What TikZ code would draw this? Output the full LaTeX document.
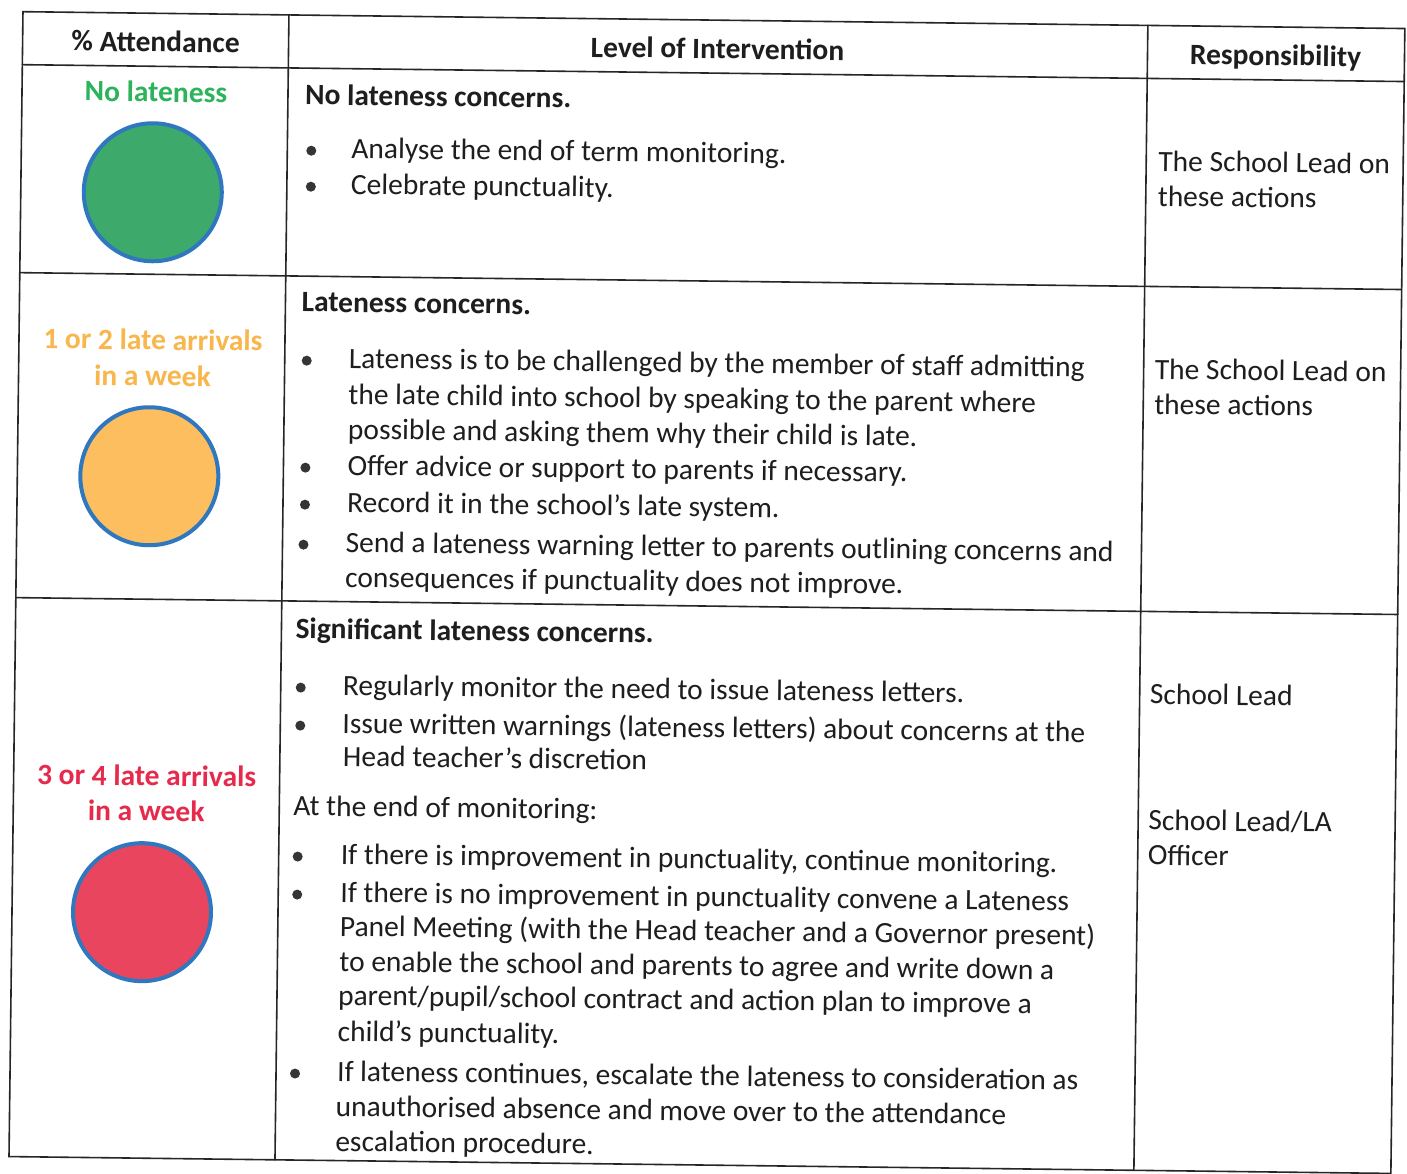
\documentclass[tikz,border=0pt]{standalone}
\usepackage{fontspec}
\setmainfont{Carlito}
\definecolor{ink}{HTML}{1E1E1E}
\definecolor{lampedge}{HTML}{2F78C0}
\definecolor{gfill}{HTML}{3DAA6C}
\definecolor{ofill}{HTML}{FDBE60}
\definecolor{rfill}{HTML}{E9455E}
\definecolor{gtext}{HTML}{2DB35C}
\definecolor{otext}{HTML}{F8B64C}
\definecolor{rtext}{HTML}{E62A4C}
\begin{document}
\begin{tikzpicture}[x=1pt,y=-1pt,
  grid/.style={line width=1.6pt, draw=black!85, line cap=round},
  txt/.style={font=\fontsize{29.5}{35}\selectfont, text=ink, inner sep=0pt, anchor=base west, yshift=-2.5pt},
  hd/.style={txt, font=\fontsize{29.5}{35}\selectfont\bfseries},
  ctr/.style={anchor=base},
  lamp/.style={circle, draw=lampedge, line width=4pt, minimum size=138pt, inner sep=0pt},
  bul/.style={circle, fill=ink!90, inner sep=0pt, minimum size=10pt, yshift=-2.5pt}]
\useasboundingbox (0,0) rectangle (1407,1173);
\fill[white] (0,0) rectangle (1407,1173);
\begin{scope}[rotate around={-0.7:(703,586)}, transform shape]
% grid
\draw[grid] (16,20) rectangle (1398,1165);
\draw[grid] (282,20) -- (282,1165);
\draw[grid] (1141,20) -- (1141,1165);
\foreach \yy in {73,281,606} \draw[grid] (16,\yy) -- (1398,\yy);
% header
\node[hd,ctr] (h1) at (149,56) {\% Attendance};
\node[hd,ctr] (h2) at (711,56) {Level of Intervention};
\node[hd,ctr] (h3) at (1269,56) {Responsibility};
% column 1
\node[hd,ctr,text=gtext] (g1) at (150,106) {No lateness};
\node[lamp,fill=gfill] (cg) at (148,199) {};
\node[hd,ctr,text=otext] (o1) at (150,354) {1 or 2 late arrivals};
\node[hd,ctr,text=otext] (o2) at (150,390) {in a week};
\node[lamp,fill=ofill] (co) at (148,483) {};
\node[hd,ctr,text=rtext] (r1) at (149,790) {3 or 4 late arrivals};
\node[hd,ctr,text=rtext] (r2) at (149,825) {in a week};
\node[lamp,fill=rfill] (cr) at (146,919) {};
% row 1
\node[hd] (a0) at (299,107) {No lateness concerns.};
\node[bul] (ab1) at (306,153) {};
\node[txt] (a1) at (346,160) {Analyse the end of term monitoring.};
\node[bul] (ab2) at (306,189) {};
\node[txt] (a2) at (346,196) {Celebrate punctuality.};
\node[txt] (ar1) at (1153,163) {The School Lead on};
\node[txt] (ar2) at (1153,198) {these actions};
% row 2
\node[hd] (b0) at (298,314) {Lateness concerns.};
\node[bul] (bb1) at (304,363) {};
\node[txt] (b1) at (346,370) {Lateness is to be challenged by the member of staff admitting};
\node[txt] (b2) at (346,406) {the late child into school by speaking to the parent where};
\node[txt] (b3) at (346,441) {possible and asking them why their child is late.};
\node[bul] (bb2) at (304,470) {};
\node[txt] (b4) at (346,477) {Offer advice or support to parents if necessary.};
\node[bul] (bb3) at (304,507) {};
\node[txt] (b5) at (346,514) {Record it in the school’s late system.};
\node[bul] (bb4) at (303,547) {};
\node[txt] (b6) at (345,554) {Send a lateness warning letter to parents outlining concerns and};
\node[txt] (b7) at (345,589) {consequences if punctuality does not improve.};
\node[txt] (br1) at (1152,371) {The School Lead on};
\node[txt] (br2) at (1152,406) {these actions};
% row 3
\node[hd] (c0) at (296,641) {Significant lateness concerns.};
\node[bul] (cb1) at (302,690) {};
\node[txt] (c1) at (344,697) {Regularly monitor the need to issue lateness letters.};
\node[bul] (cb2) at (302,728) {};
\node[txt] (c2) at (344,735) {Issue written warnings (lateness letters) about concerns at the};
\node[txt] (c3) at (345,768) {Head teacher’s discretion};
\node[txt] (c4) at (296,818) {At the end of monitoring:};
\node[bul] (cb3) at (301,859) {};
\node[txt] (c5) at (344,866) {If there is improvement in punctuality, continue monitoring.};
\node[bul] (cb4) at (301,897) {};
\node[txt] (c6) at (344,904) {If there is no improvement in punctuality convene a Lateness};
\node[txt] (c7) at (344,938) {Panel Meeting (with the Head teacher and a Governor present)};
\node[txt] (c8) at (344,973) {to enable the school and parents to agree and write down a};
\node[txt] (c9) at (343,1007) {parent/pupil/school contract and action plan to improve a};
\node[txt] (c10) at (343,1043) {child’s punctuality.};
\node[bul] (cb5) at (301,1076) {};
\node[txt] (c11) at (343,1083) {If lateness continues, escalate the lateness to consideration as};
\node[txt] (c12) at (342,1118) {unauthorised absence and move over to the attendance};
\node[txt] (c13) at (342,1153) {escalation procedure.};
\node[txt] (cr1) at (1151,696) {School Lead};
\node[txt] (cr2) at (1151,822) {School Lead/LA};
\node[txt] (cr3) at (1151,857) {Officer};
\end{scope}
\end{tikzpicture}
\end{document}
